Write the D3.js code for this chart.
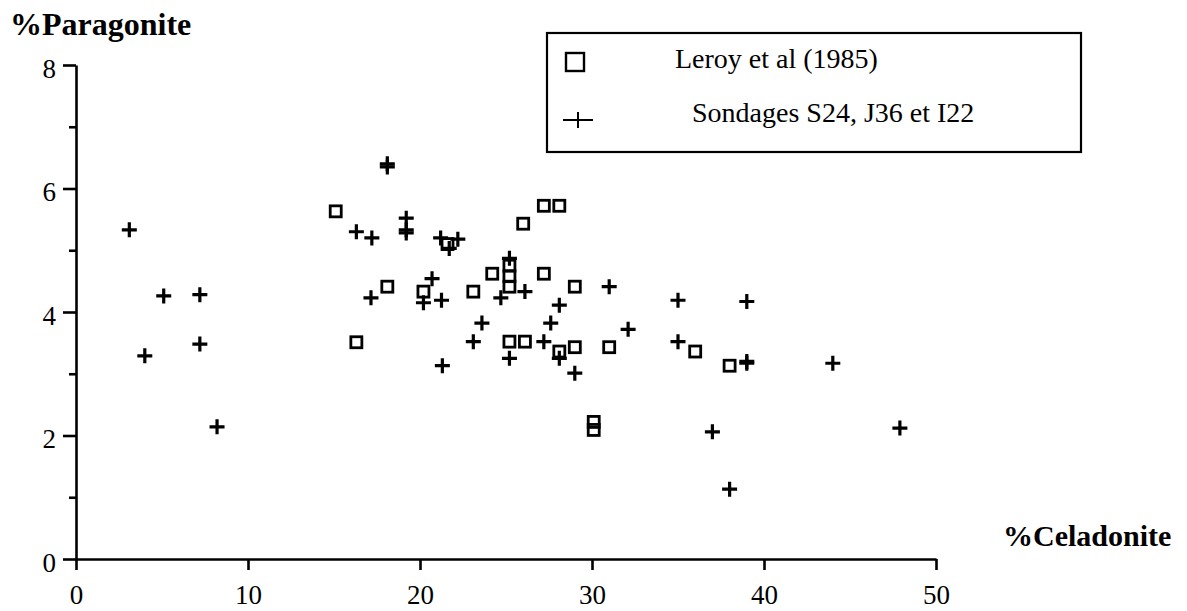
<!DOCTYPE html>
<html>
<head>
<meta charset="utf-8">
<script src="https://cdn.jsdelivr.net/npm/d3@7"></script>
<style>
  html, body { margin: 0; padding: 0; background: #fff; }
  svg { display: block; }
  .serif { font-family: "Liberation Serif", "Times New Roman", serif; fill: #000; }
</style>
</head>
<body>
<svg id="chart" width="1187" height="611"></svg>
<script>
// Leroy et al (1985) analyses: % celadonite vs % paragonite
const leroyCel = [15.1, 16.3, 18.1, 20.2, 21.6, 23.1, 24.2, 25.2, 25.2, 25.2, 25.2, 26.1, 26.0, 27.2, 28.1, 27.2, 29.0, 28.1, 29.0, 31.0, 30.1, 30.1, 36.0, 38.0];
const leroyPar = [5.63, 3.51, 4.41, 4.33, 5.10, 4.33, 4.62, 4.75, 4.58, 4.41, 3.52, 3.52, 5.43, 5.72, 5.72, 4.62, 4.41, 3.36, 3.43, 3.43, 2.22, 2.09, 3.36, 3.13];

// Boreholes S24, J36 and I22
const sondCel = [3.1, 5.1, 7.2, 4.0, 7.2, 8.2, 16.3, 17.2, 17.15, 18.1, 18.1, 19.2, 19.2, 19.2, 21.2, 21.7, 22.2, 20.7, 20.2, 21.25, 25.2, 24.7, 26.1, 28.1, 27.6, 23.6, 23.1, 27.2, 28.1, 25.2, 29.0, 21.3, 31.0, 32.1, 35.0, 35.0, 39.0, 39.0, 39.0, 44.0, 37.0, 38.0, 47.9];
const sondPar = [5.33, 4.26, 4.28, 3.29, 3.48, 2.14, 5.30, 5.20, 4.23, 6.40, 6.35, 5.52, 5.33, 5.28, 5.20, 5.03, 5.18, 4.54, 4.15, 4.19, 4.87, 4.23, 4.33, 4.11, 3.82, 3.82, 3.52, 3.52, 3.25, 3.25, 3.01, 3.13, 4.41, 3.72, 4.19, 3.52, 4.17, 3.20, 3.17, 3.17, 2.06, 1.13, 2.12];

const xTicks = [0, 10, 20, 30, 40, 50];
const yTicks = [0, 2, 4, 6, 8];
const yMinorTicks = [1, 3, 5, 7];

const legendLabels = ["Leroy et al (1985)", "Sondages S24, J36 et I22"];
const xTitle = "%Celadonite";
const yTitle = "%Paragonite";

const svg = d3.select("#chart");

const x = d3.scaleLinear().domain([0, 50]).range([76, 936]);
const y = d3.scaleLinear().domain([0, 8]).range([559, 65]);

// Axes
const axisStroke = 2.6;

const gx = svg.append("g")
  .attr("transform", `translate(0,${y(0)})`)
  .call(d3.axisBottom(x).tickValues(xTicks).tickSize(11).tickSizeOuter(0).tickPadding(15).tickFormat(d3.format("d")));

const gyMinor = svg.append("g")
  .attr("transform", `translate(${x(0)},0)`)
  .call(d3.axisLeft(y).tickValues(yMinorTicks).tickSize(7).tickSizeOuter(0).tickFormat(""));

const gy = svg.append("g")
  .attr("transform", `translate(${x(0)},0)`)
  .call(d3.axisLeft(y).tickValues(yTicks).tickSize(13).tickSizeOuter(0).tickPadding(7).tickFormat(d3.format("d")));

[gx, gy, gyMinor].forEach(g => {
  g.select(".domain").attr("stroke", "#000").attr("stroke-width", axisStroke);
  g.selectAll(".tick line").attr("stroke", "#000").attr("stroke-width", axisStroke);
  g.selectAll(".tick text")
    .attr("class", "serif")
    .style("font-family", "'Liberation Serif', serif")
    .style("font-size", "27px")
    .attr("fill", "#000");
});
gyMinor.select(".domain").remove();
gy.selectAll(".tick text").attr("dy", "0.45em");

// Axis titles
svg.append("text")
  .attr("class", "serif")
  .attr("x", 10).attr("y", 35)
  .style("font-size", "32px").style("font-weight", "bold")
  .text(yTitle);

svg.append("text")
  .attr("class", "serif")
  .attr("x", 1003).attr("y", 546)
  .style("font-size", "30px").style("font-weight", "bold")
  .text(xTitle);

// Markers
const sq = 11;
svg.append("g")
  .selectAll("rect")
  .data(d3.zip(leroyCel, leroyPar))
  .join("rect")
  .attr("x", d => x(d[0]) - sq / 2)
  .attr("y", d => y(d[1]) - sq / 2)
  .attr("width", sq).attr("height", sq)
  .attr("fill", "none").attr("stroke", "#000").attr("stroke-width", 2.8);

const half = 7.5;
const plus = svg.append("g")
  .selectAll("path")
  .data(d3.zip(sondCel, sondPar))
  .join("path")
  .attr("d", d => {
    const cx = x(d[0]), cy = y(d[1]);
    return `M${cx - half},${cy}H${cx + half}M${cx},${cy - half}V${cy + half}`;
  })
  .attr("fill", "none").attr("stroke", "#000").attr("stroke-width", 3.2);

// Legend
const legend = svg.append("g");
legend.append("rect")
  .attr("x", 547).attr("y", 33).attr("width", 534).attr("height", 119)
  .attr("fill", "#fff").attr("stroke", "#000").attr("stroke-width", 2.2);

legend.append("rect")
  .attr("x", 566).attr("y", 53).attr("width", 18).attr("height", 18)
  .attr("fill", "none").attr("stroke", "#000").attr("stroke-width", 2.4);

legend.append("path")
  .attr("d", "M563,120H593M578,112V128")
  .attr("fill", "none").attr("stroke", "#000").attr("stroke-width", 2);

legend.append("text")
  .attr("class", "serif")
  .attr("x", 675).attr("y", 68)
  .style("font-size", "28px")
  .text(legendLabels[0]);

legend.append("text")
  .attr("class", "serif")
  .attr("x", 692).attr("y", 122)
  .style("font-size", "28px")
  .text(legendLabels[1]);
</script>
</body>
</html>
